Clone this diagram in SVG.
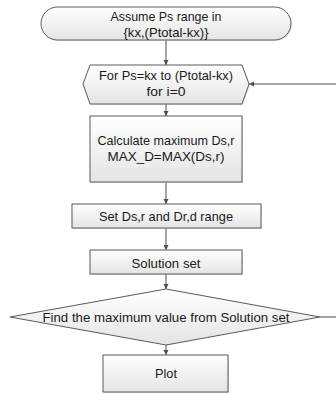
<svg xmlns="http://www.w3.org/2000/svg" width="336" height="394" viewBox="0 0 336 394">
<defs>
<linearGradient id="g" x1="0" y1="0" x2="0" y2="1">
<stop offset="0" stop-color="#ffffff"/>
<stop offset="1" stop-color="#e4e4e4"/>
</linearGradient>
<marker id="ar" markerWidth="6" markerHeight="6" refX="5" refY="3" orient="auto" markerUnits="userSpaceOnUse">
<path d="M0,0.5 L5,3 L0,5.5 Z" fill="#4d4d4d"/>
</marker>
</defs>
<style>
.s{fill:url(#g);stroke:#5a5a5a;stroke-width:1}
.sh{fill:#d0d0d0;stroke:none;opacity:0.6}
.t{font-family:"Liberation Sans",Arial,sans-serif;font-size:13.5px;fill:#1a1a1a;text-anchor:middle}
.c{fill:none;stroke:#4d4d4d;stroke-width:1}
</style>
<rect width="336" height="394" fill="#ffffff"/>
<g id="connectors">
<line class="c" x1="166" y1="40" x2="166" y2="65" marker-end="url(#ar)"/>
<line class="c" x1="166" y1="104" x2="166" y2="116" marker-end="url(#ar)"/>
<line class="c" x1="166" y1="182" x2="166" y2="204" marker-end="url(#ar)"/>
<line class="c" x1="166" y1="228" x2="166" y2="250" marker-end="url(#ar)"/>
<line class="c" x1="166" y1="274" x2="166" y2="289" marker-end="url(#ar)"/>
<line class="c" x1="166" y1="345" x2="166" y2="355" marker-end="url(#ar)"/>
<line class="c" x1="336" y1="84" x2="249" y2="84" marker-end="url(#ar)"/>
<line class="c" x1="320" y1="317" x2="336" y2="317"/>
</g>
<g id="start">
<rect class="sh" x="42" y="8" width="250" height="33" rx="16.5"/>
<rect class="s" x="41" y="7" width="250" height="33" rx="16.5"/>
<text class="t" x="166" y="21" textLength="111" lengthAdjust="spacingAndGlyphs">Assume Ps range in</text>
<text class="t" x="166" y="37" textLength="85" lengthAdjust="spacingAndGlyphs">{kx,(Ptotal-kx)}</text>
</g>
<g id="loop">
<polygon class="sh" points="91,66 243,66 250,85 243,105 91,105 84,85"/>
<polygon class="s" points="90,65 242,65 249,84 242,104 90,104 83,84"/>
<text class="t" x="166" y="80" textLength="134" lengthAdjust="spacingAndGlyphs">For Ps=kx to (Ptotal-kx)</text>
<text class="t" x="166" y="96" textLength="39" lengthAdjust="spacingAndGlyphs">for i=0</text>
</g>
<g id="calc">
<rect class="sh" x="91" y="117" width="152" height="66"/>
<rect class="s" x="90" y="116" width="152" height="66"/>
<text class="t" x="166" y="145" textLength="137" lengthAdjust="spacingAndGlyphs">Calculate maximum Ds,r</text>
<text class="t" x="166" y="161" textLength="117" lengthAdjust="spacingAndGlyphs">MAX_D=MAX(Ds,r)</text>
</g>
<g id="range">
<rect class="sh" x="73" y="205" width="189" height="24"/>
<rect class="s" x="72" y="204" width="189" height="24"/>
<text class="t" x="166" y="221" textLength="134" lengthAdjust="spacingAndGlyphs">Set Ds,r and Dr,d range</text>
</g>
<g id="solution">
<rect class="sh" x="91" y="251" width="152" height="24"/>
<rect class="s" x="90" y="250" width="152" height="24"/>
<text class="t" x="166" y="268" textLength="69" lengthAdjust="spacingAndGlyphs">Solution set</text>
</g>
<g id="decision">
<polygon class="s" points="166,289 320,317 166,345 10,317"/>
<text class="t" x="166" y="322" textLength="247" lengthAdjust="spacingAndGlyphs">Find the maximum value from Solution set</text>
</g>
<g id="plot">
<rect class="sh" x="104" y="356" width="125" height="37"/>
<rect class="s" x="103" y="355" width="125" height="37"/>
<text class="t" x="166" y="378" textLength="22" lengthAdjust="spacingAndGlyphs">Plot</text>
</g>
</svg>
